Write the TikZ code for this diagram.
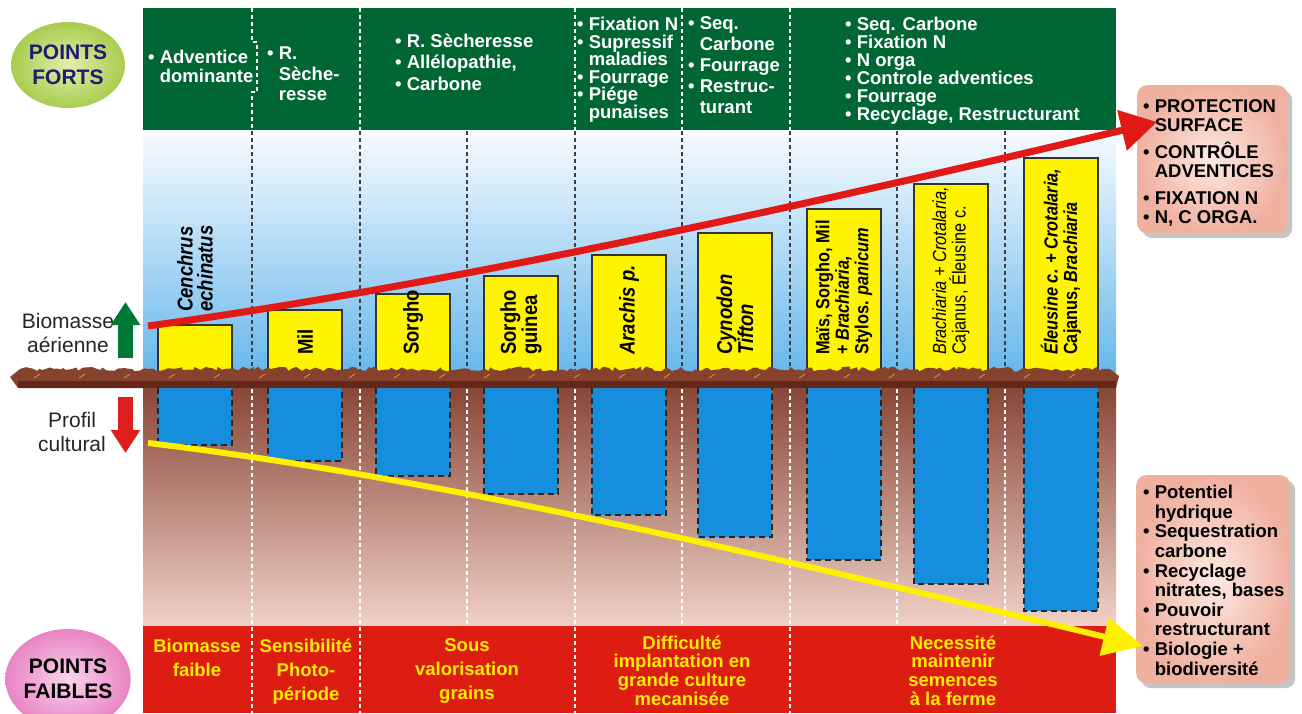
\documentclass[tikz,border=0pt]{standalone}
\usepackage{fontspec}
\setmainfont{Liberation Sans}
\newfontfamily\narrowfont[FakeStretch=0.86]{Liberation Sans}
\usetikzlibrary{arrows.meta,shapes.geometric,shadows,decorations.pathmorphing}

\definecolor{bandgreen}{RGB}{0,102,51}
\definecolor{bandred}{RGB}{221,28,18}
\definecolor{skytop}{RGB}{248,252,255}
\definecolor{skymid}{RGB}{196,226,246}
\definecolor{skybot}{RGB}{104,184,236}
\definecolor{soiltop}{RGB}{136,70,54}
\definecolor{soilmid}{RGB}{186,126,110}
\definecolor{soilbot}{RGB}{240,210,200}
\definecolor{grass}{RGB}{135,66,46}
\definecolor{grassdark}{RGB}{100,40,26}
\definecolor{fleck}{RGB}{205,160,60}
\definecolor{barfill}{RGB}{255,244,0}
\definecolor{rootfill}{RGB}{22,142,222}
\definecolor{arrowred}{RGB}{226,26,22}
\definecolor{arrowyellow}{RGB}{255,240,0}
\definecolor{notetext}{RGB}{255,236,0}
\definecolor{boxpink}{RGB}{240,176,160}
\definecolor{boxlight}{RGB}{253,234,226}
\definecolor{fortsgreen}{RGB}{168,204,78}
\definecolor{fortslight}{RGB}{228,238,170}
\definecolor{faiblespink}{RGB}{232,132,196}
\definecolor{faibleslight}{RGB}{250,212,236}
\definecolor{navy}{RGB}{28,28,112}
\definecolor{upgreen}{RGB}{0,120,56}
\definecolor{downred}{RGB}{222,30,28}

\tikzset{
  fortnote/.style={anchor=north west, inner sep=0pt, align=left, text=white,
    font=\bfseries\fontsize{18.5}{#1}\selectfont},
  fortnote/.default=18,
  faiblenote/.style={anchor=north, inner sep=0pt, align=center, text=notetext,
    font=\bfseries\fontsize{18.5}{#1}\selectfont},
  faiblenote/.default=24,
  species/.style={rotate=90, anchor=west, inner sep=0pt, align=left,
    font=\narrowfont\bfseries\fontsize{21.5}{20}\selectfont},
  species small/.style={font=\narrowfont\bfseries\fontsize{19}{19.5}\selectfont},
  badge/.style={ellipse, minimum width=114pt, minimum height=86pt, inner sep=0pt,
    align=center, font=\bfseries\fontsize{21}{25}\selectfont},
  sidebox/.style={anchor=north west, rounded corners=10pt, inner sep=0pt,
    inner color=boxlight, outer color=boxpink,
    drop shadow={shadow xshift=5pt, shadow yshift=-5pt, fill=black!45}},
  sidenote/.style={anchor=north west, inner sep=0pt, align=left,
    font=\bfseries\fontsize{18.5}{19.6}\selectfont},
  axislabel/.style={anchor=north, inner sep=0pt, align=center, text=black!85,
    font=\fontsize{21}{24.5}\selectfont},
  darkdash/.style={black!75, line width=1.3pt, dash pattern=on 4pt off 3pt},
  whitedash/.style={white, line width=1.3pt, dash pattern=on 4pt off 3pt},
  barline/.style={draw=black!80, line width=2.5pt},
  rootline/.style={draw=black!85, line width=2pt, dash pattern=on 6pt off 4pt},
  trend/.style={line width=#1},
}

\begin{document}
\begin{tikzpicture}[x=1pt,y=-1pt]
\useasboundingbox (0,0) rectangle (1302,713);
\fill[white] (0,0) rectangle (1302,713);

% ------ bands ------
\fill[bandgreen] (143,8) rectangle (1116,130);
\fill[top color=skytop, middle color=skymid, bottom color=skybot] (143,130) rectangle (1116,372);
\fill[top color=soiltop, middle color=soilmid, bottom color=soilbot] (143,386) rectangle (1116,626);
\fill[bandred] (143,626) rectangle (1116,713);

% ------ column dividers ------
\foreach \x in {252,360,467,575,682,790,897,1005} {
  \draw[darkdash] (\x,131) -- (\x,370);
  \draw[whitedash] (\x,389) -- (\x,626);
}
\foreach \x in {360,575,682,790} \draw[whitedash] (\x,8) -- (\x,130);
\draw[whitedash] (252,8) -- (252,42) -- (257,42) -- (257,92) -- (252,92) -- (252,130);
\foreach \x in {252,360,575,790} \draw[whitedash] (\x,627) -- (\x,713);

% ------ biomasse / racines ------
\foreach \barx/\bartop/\rootend in {158/325/445,268/310/461,376/294/476,484/276/494,
    592/255/515,698/233/537,807/209/560,914/184/584,1024/158/611} {
  \fill[barfill] (\barx,372) rectangle (\barx+74,\bartop);
  \draw[barline] (\barx,372) |- (\barx+74,\bartop) -- (\barx+74,372);
  \fill[rootfill] (\barx,388) rectangle (\barx+74,\rootend);
  \draw[rootline] (\barx,388) |- (\barx+74,\rootend) -- (\barx+74,388);
}

% ------ sol ------
\fill[grass] (18,388) -- (10,377) -- (20,369)
  decorate[decoration={random steps,segment length=4pt,amplitude=2.5pt}] {-- (1110,369)}
  -- (1119,376) -- (1116,388) -- cycle;
\fill[grassdark] (18,381) rectangle (1116,388);
\foreach \x in {34,79,...,1100} \draw[fleck, line width=0.8pt] (\x,378) -- ++(6,-4);

% ------ especes ------
\node[species] (sp1) at (195,312) {\textit{Cenchrus}\\\textit{echinatus}};
\node[species] (sp2) at (305,355) {Mil};
\node[species] (sp3) at (413,355) {Sorgho};
\node[species] (sp4) at (521,355) {Sorgho\\guinea};
\node[species] (sp5) at (629,355) {\textit{Arachis p.}};
\node[species] (sp6) at (735,355) {\textit{Cynodon}\\\textit{Tifton}};
\node[species, species small] (sp7) at (844,355) {Maïs, Sorgho, Mil\\+ \textit{Brachiaria,}\\Stylos. \textit{panicum}};
\node[species, font=\narrowfont\fontsize{19}{19.5}\selectfont] (sp8) at (951,355) {\textit{Brachiaria + Crotalaria,}\\Cajanus, Éleusine c.};
\node[species, species small] (sp9) at (1061,355) {\textit{Éleusine c. + Crotalaria,}\\Cajanus, \textit{Brachiaria}};

% ------ points forts ------
\node[fortnote=19] (fort1) at (148,49.8) {\textbullet\ Adventice\\\phantom{\textbullet\ }dominante};
\node[fortnote=20.5] (fort2) at (267,46.8) {\textbullet\ R.\\\phantom{\textbullet\ }Sèche-\\\phantom{\textbullet\ }resse};
\node[fortnote=21.5] (fort3) at (395,33.5) {\textbullet\ R. Sècheresse\\\textbullet\ Allélopathie,\\\textbullet\ Carbone};
\node[fortnote=17.6] (fort4) at (577,16.8) {\textbullet\ Fixation N\\\textbullet\ Supressif\\\phantom{\textbullet\ }maladies\\\textbullet\ Fourrage\\\textbullet\ Piége\\\phantom{\textbullet\ }punaises};
\node[fortnote=20.8] (fort5) at (688,16.7) {\textbullet\ Seq.\\\phantom{\textbullet\ }Carbone\\\textbullet\ Fourrage\\\textbullet\ Restruc-\\\phantom{\textbullet\ }turant};
\node[fortnote=18] (fort6) at (845,16.7) {\textbullet\ Seq. Carbone\\\textbullet\ Fixation N\\\textbullet\ N orga\\\textbullet\ Controle adventices\\\textbullet\ Fourrage\\\textbullet\ Recyclage, Restructurant};

% ------ points faibles ------
\node[faiblenote] (faible1) at (197,638.8) {Biomasse\\faible};
\node[faiblenote] (faible2) at (306,638.5) {Sensibilité\\Photo-\\période};
\node[faiblenote] (faible3) at (467,638.8) {Sous\\valorisation\\grains};
\node[faiblenote=18.7] (faible4) at (682,635.5) {Difficulté\\implantation en\\grande culture\\mecanisée};
\node[faiblenote=18.7] (faible5) at (953,635.5) {Necessité\\maintenir\\semences\\à la ferme};

% ------ badges et axes ------
\node[badge, inner color=fortslight, outer color=fortsgreen, text=navy] (forts) at (68,65) {POINTS\\FORTS};
\node[badge, minimum height=100pt, inner color=faibleslight, outer color=faiblespink] (faibles) at (68,679) {POINTS\\FAIBLES};
\node[axislabel] (biolab) at (68,313) {Biomasse\\aérienne};
\node[axislabel] (proflab) at (72,411.7) {Profil\\cultural};
\coordinate (biofoot) at (125.5,358);
\coordinate (biohead) at (125.5,302);
\draw[upgreen, line width=15pt, -{Triangle[length=23pt,width=28pt]}] (biofoot) -- (biohead);
\coordinate (proftop) at (125.5,397);
\coordinate (profhead) at (125.5,453);
\draw[downred, line width=15pt, -{Triangle[length=23pt,width=28pt]}] (proftop) -- (profhead);

% ------ encadres ------
\node[sidebox, minimum width=150pt, minimum height=148pt] (protbox) at (1137,85) {};
\node[sidenote, font=\bfseries\fontsize{18.5}{19}\selectfont] (prottext) at (1143,99.6)
  {\textbullet\ PROTECTION\\\phantom{\textbullet\ }SURFACE\\[8pt]\textbullet\ CONTRÔLE\\\phantom{\textbullet\ }ADVENTICES\\[8pt]\textbullet\ FIXATION N\\\textbullet\ N, C ORGA.};
\node[sidebox, minimum width=154pt, minimum height=208pt] (soilbox) at (1136,475) {};
\node[sidenote] (soiltext) at (1143,485)
  {\textbullet\ Potentiel\\\phantom{\textbullet\ }hydrique\\\textbullet\ Sequestration\\\phantom{\textbullet\ }carbone\\\textbullet\ Recyclage\\\phantom{\textbullet\ }nitrates, bases\\\textbullet\ Pouvoir\\\phantom{\textbullet\ }restructurant\\\textbullet\ Biologie +\\\phantom{\textbullet\ }biodiversité};

% ------ tendances ------
\coordinate (risestart) at (148,326);
\coordinate (risetip) at (1157,122);
\draw[trend=7pt, arrowred, -{Triangle[length=36pt,width=40pt]}] (risestart) .. controls (448,285) and (807,205) .. (risetip);
\coordinate (dropstart) at (148,443);
\coordinate (droptip) at (1143,646);
\draw[trend=6pt, arrowyellow, -{Triangle[length=40pt,width=38pt]}] (dropstart) .. controls (448,479) and (793,562) .. (droptip);
\end{tikzpicture}
\end{document}
